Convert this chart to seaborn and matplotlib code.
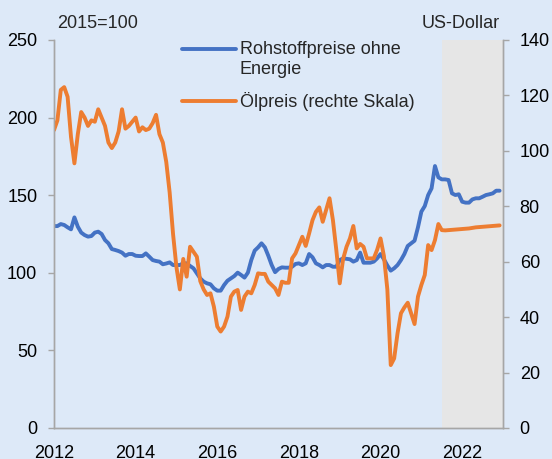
import matplotlib
matplotlib.use('Agg')
import matplotlib.pyplot as plt
import numpy as np
import pandas as pd
import seaborn as sns

# monthly values, Jan 2012 .. Dec 2022
RAW = [130.1, 130.1, 131.4, 130.8, 129.3, 128.0, 135.7, 129.7, 125.9, 124.3, 123.3, 123.7,
       125.9, 126.5, 125.0, 121.1, 119.0, 115.3, 114.7, 114.0, 113.0, 111.0, 112.1, 112.1,
       111.0, 110.8, 110.8, 112.5, 110.4, 108.2, 107.6, 107.2, 105.5, 106.0, 106.7, 105.0,
       105.0, 105.0, 106.1, 106.1, 104.4, 102.9, 99.7, 96.4, 94.3, 93.2, 92.6, 90.0,
       88.5, 88.5, 92.1, 94.9, 96.4, 97.9, 100.1, 98.6, 96.9, 100.1, 108.2, 114.3,
       116.4, 119.0, 116.4, 111.0, 105.0, 100.4, 102.5, 103.5, 103.3, 103.3, 103.9, 105.7,
       106.1, 105.0, 106.1, 112.1, 110.0, 106.1, 105.0, 103.5, 105.0, 105.0, 103.9, 103.9,
       108.2, 109.3, 109.0, 108.7, 107.2, 108.2, 113.0, 106.5, 106.5, 106.5, 107.2, 109.3,
       112.1, 108.7, 104.7, 101.4, 102.9, 105.0, 108.2, 112.1, 117.3, 119.0, 120.7, 129.3,
       139.4, 143.0, 150.1, 154.4, 168.8, 161.5, 160.2, 160.2, 159.8, 151.2, 150.1, 150.6,
       145.8, 145.2, 145.2, 147.3, 148.0, 148.0, 149.0, 150.1, 150.6, 151.2, 152.9, 152.9]

OIL = [107.5, 111.0, 122.0, 123.0, 119.5, 105.0, 95.5, 106.0, 114.0, 112.0, 109.0, 111.0,
       110.5, 115.0, 112.0, 109.0, 103.0, 101.0, 103.0, 107.0, 115.0, 108.0, 109.0, 110.5,
       112.0, 107.0, 108.5, 107.5, 108.0, 110.0, 113.0, 106.0, 103.0, 96.0, 85.0, 70.0,
       58.0, 50.0, 61.0, 54.6, 65.4, 63.6, 61.8, 53.0, 50.0, 48.0, 48.6, 43.8,
       36.6, 34.8, 36.6, 40.2, 47.4, 49.2, 49.8, 42.6, 47.4, 49.2, 48.6, 51.6,
       55.8, 55.6, 55.6, 52.8, 51.6, 50.4, 48.0, 52.8, 52.4, 52.4, 61.2, 63.0,
       66.0, 69.0, 65.7, 70.2, 75.0, 78.0, 79.6, 74.4, 78.7, 82.9, 75.0, 64.2,
       52.2, 61.0, 65.4, 68.4, 72.9, 64.8, 66.4, 65.4, 61.2, 61.2, 61.2, 64.3,
       68.4, 62.0, 50.0, 22.7, 25.1, 34.2, 41.4, 43.5, 45.2, 41.4, 37.5, 47.4,
       51.6, 55.2, 66.0, 64.2, 67.8, 73.6, 71.4, 71.3, 71.4, 71.5, 71.6, 71.7,
       71.8, 71.9, 72.0, 72.2, 72.4, 72.5, 72.6, 72.7, 72.8, 72.9, 73.0, 73.1]

YEARS = [2012, 2014, 2016, 2018, 2020, 2022]
FORECAST_START = 2021.5

BG = '#dde9f8'
SPINE = '#a6a6a6'
BLUE = '#4472c4'
ORANGE = '#ed7d31'

df = pd.DataFrame({'t': 2012 + np.arange(len(RAW)) / 12, 'raw': RAW, 'oil': OIL})

sns.set_style('white', {'axes.facecolor': BG, 'figure.facecolor': BG,
                        'axes.edgecolor': SPINE})
plt.rcParams['font.family'] = ['Liberation Sans', 'DejaVu Sans']

fig = plt.figure(figsize=(5.52, 4.59), dpi=100)
ax = fig.add_axes([54 / 552, 1 - 428 / 459, 449 / 552, 388 / 459])
ax2 = ax.twinx()

ax.axvspan(FORECAST_START, 2023, color='#e6e6e6', lw=0, zorder=0)
sns.lineplot(data=df, x='t', y='raw', color=BLUE, lw=2.8, ax=ax, label='_r')
sns.lineplot(data=df, x='t', y='oil', color=ORANGE, lw=2.8, ax=ax2, label='_o')

ax.set_xlim(2012, 2023)
ax.set_ylim(0, 250)
ax2.set_ylim(0, 140)
ax.set_yticks(range(0, 251, 50))
ax2.set_yticks(range(0, 141, 20))
ax.set_xticks(YEARS)
ax.set_xticks(range(2012, 2024), minor=True)
ax.set_xlabel('')
ax.set_ylabel('')
ax2.set_ylabel('')

for a in (ax, ax2):
    a.spines['top'].set_visible(False)
    for s in a.spines.values():
        s.set_linewidth(1.0)
    a.tick_params(axis='both', which='both', direction='out', length=4,
                  width=1, color=SPINE, labelsize=13, pad=8, labelcolor='black')
ax.tick_params(axis='x', which='minor', length=4)

h1 = ax.get_lines()[0]
h2 = ax2.get_lines()[0]
leg = ax.legend([h1, h2], ['Rohstoffpreise ohne\nEnergie', 'Ölpreis (rechte Skala)'],
                loc='upper left', bbox_to_anchor=(0.265, 1.02), frameon=False,
                fontsize=13, handlelength=3.0, handletextpad=0.2, labelspacing=0.8,
                borderpad=0)
# keep the blue key level with the first text line
first = leg.legend_handles[0]
first.set_ydata(np.asarray(first.get_ydata()) + 7.5)

fig.text(57 / 552, 1 - 23 / 459, '2015=100', fontsize=13, va='center', ha='left')
fig.text(500 / 552, 1 - 23 / 459, 'US-Dollar', fontsize=13, va='center', ha='right')

fig.savefig('out.png', dpi=100, facecolor=BG)
